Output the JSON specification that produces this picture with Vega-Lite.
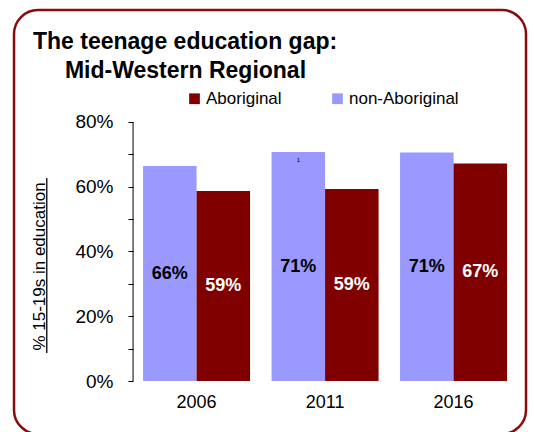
{
  "$schema": "https://vega.github.io/schema/vega-lite/v6.json",
  "width": 512,
  "height": 424,
  "autosize": {"type": "none"},
  "padding": {"left": 14, "top": 10, "right": 8, "bottom": -2},
  "title": {
    "text": ["The teenage education gap:", "\u200b\u00a0\u00a0\u00a0\u00a0\u00a0Mid-Western Regional"],
    "anchor": "start",
    "frame": "group",
    "fontSize": 23,
    "fontWeight": "bold",
    "lineHeight": 29,
    "offset": -73,
    "dx": 19,
    "color": "black"
  },
  "data": {
    "values": [
      {"year": "2006", "group": "non-Aboriginal", "pct": 0.664},
      {"year": "2006", "group": "Aboriginal", "pct": 0.587},
      {"year": "2011", "group": "non-Aboriginal", "pct": 0.707},
      {"year": "2011", "group": "Aboriginal", "pct": 0.593},
      {"year": "2016", "group": "non-Aboriginal", "pct": 0.706},
      {"year": "2016", "group": "Aboriginal", "pct": 0.672}
    ]
  },
  "resolve": {"scale": {"y": "independent"}},
  "layer": [
    {
      "mark": {"type": "bar"},
      "encoding": {
        "x": {
          "field": "year", "type": "nominal", "title": null,
          "scale": {"paddingInner": 0.1673, "paddingOuter": 0.576, "align": 0.872},
          "axis": {"orient": "bottom", "offset": -53, "domain": false, "ticks": false, "tickSize": 0, "labelAngle": 0, "labelFontSize": 18, "labelPadding": 12, "labelColor": "black"}
        },
        "xOffset": {"field": "group", "type": "nominal", "sort": ["non-Aboriginal", "Aboriginal"], "scale": {"paddingInner": 0, "paddingOuter": 0}},
        "y": {
          "field": "pct", "type": "quantitative", "title": "% 15-19s in education",
          "scale": {"domain": [-0.1637, 1.1459], "nice": false, "zero": false},
          "axis": {
            "offset": -119, "domain": false, "grid": false,
            "values": [0, 0.1, 0.2, 0.3, 0.4, 0.5, 0.6, 0.7, 0.8],
            "format": ".0%",
            "labelExpr": "round(datum.value*10)%2==0 ? datum.label : ''",
            "labelOverlap": false,
            "tickSize": 5, "tickColor": "black", "tickWidth": 1,
            "labelFontSize": 19, "labelPadding": 15, "labelColor": "black",
            "titleFontSize": 17, "titleFontWeight": "normal", "titleColor": "black",
            "titleX": -89, "titleY": 256, "titleAngle": -90, "titleBaseline": "alphabetic", "titleAlign": "center"
          }
        },
        "color": {
          "field": "group", "type": "nominal",
          "scale": {"domain": ["Aboriginal", "non-Aboriginal"], "range": ["#800000", "#9999FF"]},
          "legend": {
            "orient": "none", "legendX": 172, "legendY": 80, "direction": "horizontal", "title": null,
            "symbolType": "square", "symbolSize": 115, "symbolStrokeWidth": 0,
            "labelFontSize": 17, "labelOffset": 3, "columnPadding": 47, "labelColor": "black"
          }
        }
      }
    },
    {
      "mark": {"type": "text", "fontSize": 18, "fontWeight": "bold", "baseline": "middle"},
      "encoding": {
        "x": {"field": "year", "type": "nominal", "title": null},
        "xOffset": {"field": "group", "type": "nominal", "sort": ["non-Aboriginal", "Aboriginal"]},
        "y": {"field": "pct", "type": "quantitative", "scale": {"domain": [-0.3274, 2.2918], "nice": false, "zero": false}, "axis": null},
        "text": {"field": "pct", "type": "quantitative", "format": ".0%"},
        "color": {"condition": {"test": "datum.group === 'Aboriginal'", "value": "white"}, "value": "black"}
      }
    },
    {
      "transform": [{"filter": "datum.year === '2011' && datum.group === 'non-Aboriginal'"}],
      "mark": {"type": "text", "fontSize": 6, "baseline": "middle", "dy": 8, "color": "black"},
      "encoding": {
        "x": {"field": "year", "type": "nominal", "title": null},
        "xOffset": {"field": "group", "type": "nominal", "sort": ["non-Aboriginal", "Aboriginal"]},
        "y": {"field": "pct", "type": "quantitative", "scale": {"domain": [-0.1637, 1.1459], "nice": false, "zero": false}, "axis": null},
        "text": {"value": "1"}
      }
    },
    {
      "data": {"values": [{}]},
      "mark": {"type": "rule", "color": "black", "strokeWidth": 1},
      "encoding": {
        "x": {"datum": "2006", "bandPosition": -0.0935, "title": null},
        "y": {"datum": 0, "type": "quantitative", "scale": {"domain": [-0.1637, 1.1459], "nice": false, "zero": false}, "axis": null},
        "y2": {"datum": 0.8}
      }
    },
    {
      "data": {"values": [{}]},
      "mark": {"type": "rule", "color": "black", "strokeWidth": 1.3},
      "encoding": {
        "x": {"datum": "2006", "bandPosition": -0.9, "title": null},
        "y": {"datum": 0.0865, "type": "quantitative", "scale": {"domain": [-0.1637, 1.1459], "nice": false, "zero": false}, "axis": null},
        "y2": {"datum": 0.627}
      }
    }
  ],
  "config": {
    "font": "Liberation Sans",
    "view": {"stroke": "#8B0A0A", "strokeWidth": 2.5, "cornerRadius": 24}
  }
}
